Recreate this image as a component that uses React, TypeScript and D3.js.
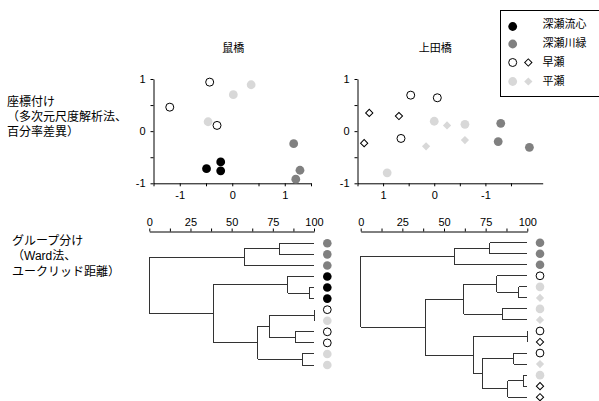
import React, { useRef, useEffect } from "react";
import * as d3 from "d3";

// 座標付け 鼠橋 (x, y)
const nezumiRyushin = [[-0.49, -0.72], [-0.22, -0.59], [-0.22, -0.76]];
const nezumiKawaberi = [[1.17, -0.24], [1.29, -0.75], [1.21, -0.92]];
const nezumiHayase = [[-0.43, 0.94], [-1.19, 0.46], [-0.29, 0.11]];
const nezumiHirase = [[0.02, 0.7], [0.36, 0.89], [-0.46, 0.18]];

// 座標付け 上田橋 (x, y)
const uedaKawaberi = [[-1.3, 0.15], [-1.25, -0.2], [-1.86, -0.31]];
const uedaHayaseCircle = [[0.46, 0.69], [-0.06, 0.64], [0.65, -0.14]];
const uedaHayaseDiamond = [[1.27, 0.35], [0.69, 0.29], [1.37, -0.23]];
const uedaHiraseCircle = [[0, 0.19], [-0.6, 0.13], [0.92, -0.8]];
const uedaHiraseDiamond = [[-0.25, 0.11], [-0.6, -0.17], [0.16, -0.29]];

const scatterXTicks = [-1.5, -1, -0.5, 0, 0.5, 1, 1.5];
const scatterYTicks = [-1, -0.5, 0, 0.5, 1];
const dendroTicks = [0, 12.5, 25, 37.5, 50, 62.5, 75, 87.5, 100];

// グループ分け: leaves top to bottom, merges [a, b, similarity]
const nezumiLeaves = ["gray", "gray", "gray", "black", "black", "black", "open", "light", "open", "open", "light", "light"];
const nezumiMerges = [
  [0, 1, 79], [12, 2, 57.7], [4, 5, 97], [3, 14, 84], [6, 7, 100], [8, 9, 88.7],
  [16, 17, 72.7], [10, 11, 93], [18, 19, 65.8], [15, 20, 38.9], [13, 21, 0],
];
const uedaLeaves = ["gray", "gray", "gray", "open", "light", "lightD", "light", "lightD", "open", "openD", "open", "lightD", "light", "openD", "openD"];
const uedaMerges = [
  [0, 1, 77.6], [15, 2, 56.2], [4, 5, 94.8], [3, 17, 81.6], [6, 7, 85], [18, 19, 62],
  [8, 9, 100], [10, 11, 91.8], [12, 13, 97.6], [23, 14, 88.2], [22, 24, 73],
  [21, 25, 67.6], [20, 26, 38.8], [16, 27, 0],
];

const legendLabels = ["深瀬流心", "深瀬川緑", "早瀬", "平瀬"];

const FONT = "'Liberation Sans', Arial, 'Noto Sans CJK JP', sans-serif";
const fills: Record<string, string> = {
  black: "#000", gray: "#808080", open: "#fff", light: "#d8d8d8", openD: "#fff", lightD: "#d8d8d8",
};

function marker(g: any, type: string, x: number, y: number, r: number) {
  const open = type === "open" || type === "openD";
  if (type.endsWith("D")) {
    g.append("path")
      .attr("d", d3.symbol(d3.symbolSquare, open ? 26 : 34)())
      .attr("transform", `translate(${x},${y}) rotate(45)`)
      .attr("fill", fills[type])
      .attr("stroke", open ? "#000" : "none")
      .attr("stroke-width", 1);
  } else {
    g.append("circle")
      .attr("cx", x).attr("cy", y).attr("r", open ? r - 0.4 : r)
      .attr("fill", fills[type])
      .attr("stroke", open ? "#000" : "none")
      .attr("stroke-width", 1);
  }
}

function styleAxis(a: any) {
  a.selectAll("text").attr("font-size", 11).attr("font-family", FONT).attr("fill", "#000");
  a.selectAll("line,path").attr("stroke", "#000");
}

const App: React.FC = () => {
  const ref = useRef<SVGSVGElement | null>(null);

  useEffect(() => {
    if (!ref.current) return;
    const svg = d3.select(ref.current);
    svg.selectAll("*").remove();

    const y = d3.scaleLinear().domain([-1, 1]).range([183.3, 79]);
    const fmt = (d: any) => (Number.isInteger(d) ? String(d) : "");

    const scatter = (domain: number[], range: number[], series: [number[][], string][], title: string) => {
      const x = d3.scaleLinear().domain(domain).range(range);
      const g = svg.append("g");
      const ax = g.append("g").attr("transform", `translate(0,${y(-1)})`)
        .call(d3.axisBottom(x).tickValues(scatterXTicks).tickSize(3).tickSizeOuter(0).tickPadding(5).tickFormat(fmt));
      const ay = g.append("g").attr("transform", `translate(${range[0]},0)`)
        .call(d3.axisLeft(y).tickValues(scatterYTicks).tickSize(3).tickSizeOuter(0).tickPadding(5).tickFormat(fmt));
      styleAxis(ax);
      styleAxis(ay);
      series.forEach(([pts, type]) => pts.forEach((p) => marker(g, type, x(p[0]), y(p[1]), 4.4)));
      g.append("text").attr("x", (range[0] + x(domain[0] < domain[1] ? 1.5 : -1.5)) / 2 + 1).attr("y", 52)
        .attr("text-anchor", "middle").attr("font-size", 11).attr("font-family", FONT).text(title);
    };

    scatter([-1.5, 1.5], [153.5, 311], [
      [nezumiRyushin, "black"], [nezumiKawaberi, "gray"], [nezumiHayase, "open"], [nezumiHirase, "light"],
    ], "鼠橋");
    scatter([1.5, -2.12], [357.5, 542.7], [
      [uedaKawaberi, "gray"], [uedaHayaseCircle, "open"], [uedaHayaseDiamond, "openD"],
      [uedaHiraseCircle, "light"], [uedaHiraseDiamond, "lightD"],
    ], "上田橋");

    const dendro = (leaves: string[], merges: number[][], xr: number[], yr: number[], mx: number) => {
      const x = d3.scaleLinear().domain([0, 100]).range(xr);
      const yl = d3.scalePoint<number>().domain(d3.range(leaves.length)).range(yr);
      const g = svg.append("g");
      const ax = g.append("g").attr("transform", "translate(0,231.5)")
        .call(d3.axisTop(x).tickValues(dendroTicks).tickSize(3).tickSizeOuter(0).tickPadding(3)
          .tickFormat((d: any) => (d % 25 === 0 ? String(d) : "")));
      styleAxis(ax);
      const ny = leaves.map((_, i) => yl(i) as number);
      const nx = leaves.map(() => x(100));
      const lines = g.append("g").attr("stroke", "#333").attr("stroke-width", 1).attr("shape-rendering", "crispEdges");
      merges.forEach(([a, b, h]) => {
        const px = x(h);
        lines.append("line").attr("x1", nx[a]).attr("x2", px).attr("y1", ny[a]).attr("y2", ny[a]);
        lines.append("line").attr("x1", nx[b]).attr("x2", px).attr("y1", ny[b]).attr("y2", ny[b]);
        lines.append("line").attr("x1", px).attr("x2", px).attr("y1", ny[a]).attr("y2", ny[b]);
        ny.push((ny[a] + ny[b]) / 2);
        nx.push(px);
      });
      leaves.forEach((t, i) => marker(g, t, mx, yl(i) as number, 4.3));
    };

    dendro(nezumiLeaves, nezumiMerges, [149.3, 314], [243.3, 365], 327.3);
    dendro(uedaLeaves, uedaMerges, [360.7, 527.3], [242.7, 397.2], 540);

    // legend
    const lg = svg.append("g");
    lg.append("rect").attr("x", 500.5).attr("y", 10.5).attr("width", 110).attr("height", 86)
      .attr("fill", "#fff").attr("stroke", "#000");
    const rowY = [26.5, 44, 62.5, 81.5];
    const legendMarks = [["black"], ["gray"], ["open", "openD"], ["light", "lightD"]];
    legendMarks.forEach((m, i) => {
      marker(lg, m[0], 512.7, rowY[i], 4.4);
      if (m[1]) marker(lg, m[1], 528.3, rowY[i], 4.4);
      lg.append("text").attr("x", 542.5).attr("y", rowY[i] + (i === 0 ? -2 : -0.5)).attr("dy", "0.35em")
        .attr("font-size", 11).attr("font-family", FONT).text(legendLabels[i]);
    });

    // row labels
    const labels: [string, number, number][] = [
      ["座標付け", 7, 106], ["（多次元尺度解析法、", 7, 121], ["百分率差異）", 7, 136],
      ["グループ分け", 12, 245], ["（Ward法、", 12, 260], ["ユークリッド距離）", 12, 276],
    ];
    labels.forEach(([t, lx, ly]) => {
      svg.append("text").attr("x", lx).attr("y", ly).attr("font-size", 12).attr("font-family", FONT).text(t);
    });
  }, []);

  return (
    <svg ref={ref} width={599} height={401} style={{ position: "absolute", left: 0, top: 0, background: "#fff" }} />
  );
};

export default App;
